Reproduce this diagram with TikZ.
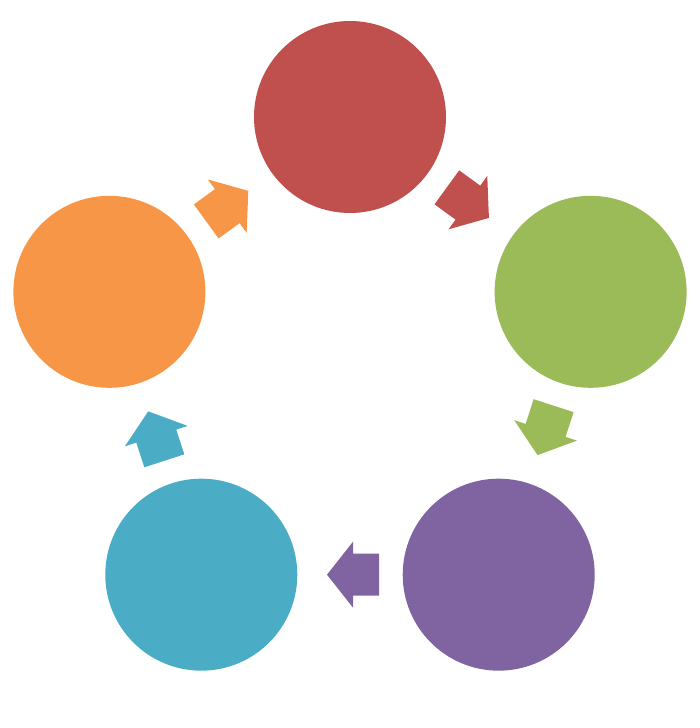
\documentclass[tikz,border=0pt]{standalone}
\usetikzlibrary{calc}
\definecolor{cred}{HTML}{C0504D}
\definecolor{cgreen}{HTML}{9BBB59}
\definecolor{cpurple}{HTML}{8064A2}
\definecolor{cteal}{HTML}{4BACC6}
\definecolor{corange}{HTML}{F79646}
\tikzset{
  ball/.style={circle, minimum size=192pt, inner sep=0pt, draw=none},
  barrow/.pic={\fill[pic actions] (-29,21) -- (-3,21) -- (-3,33) -- (23,0) -- (-3,-33) -- (-3,-21) -- (-29,-21) -- cycle;}
}
\begin{document}
\begin{tikzpicture}[x=1pt,y=1pt]
\useasboundingbox (0,0) rectangle (700,728);
\coordinate (c) at (350,358);
\node[ball, fill=cred] (red) at ($(c)+(90:253)$) {};
\node[ball, fill=cgreen] (green) at ($(c)+(18:253)$) {};
\node[ball, fill=cpurple] (purple) at ($(c)+(-54:253)$) {};
\node[ball, fill=cteal] (teal) at ($(c)+(-126:253)$) {};
\node[ball, fill=corange] (orange) at ($(c)+(162:253)$) {};
\pic[fill=cred, rotate=-36] at ($(red)!0.5!(green)$) {barrow};
\pic[fill=cgreen, rotate=-108] at ($(green)!0.5!(purple)$) {barrow};
\pic[fill=cpurple, rotate=180] at ($(purple)!0.5!(teal)$) {barrow};
\pic[fill=cteal, rotate=108] at ($(teal)!0.5!(orange)$) {barrow};
\pic[fill=corange, rotate=36] at ($(orange)!0.5!(red)$) {barrow};
\end{tikzpicture}
\end{document}
